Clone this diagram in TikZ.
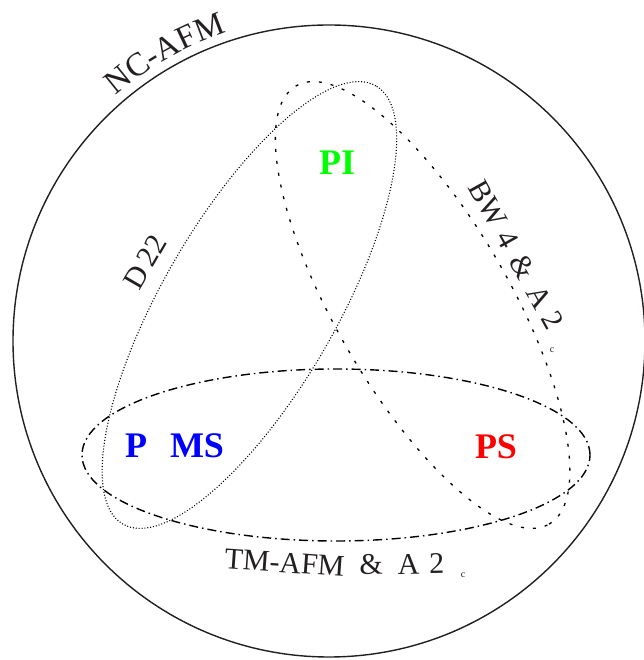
\documentclass[tikz,border=0pt]{standalone}
\usepackage{fontspec}
\setmainfont{Liberation Serif}
\usetikzlibrary{decorations.text}
\definecolor{pigreen}{RGB}{0,255,0}
\definecolor{msblue}{RGB}{0,0,255}
\definecolor{psred}{RGB}{255,0,0}
\definecolor{ink}{RGB}{35,31,32}
\begin{document}
\begin{tikzpicture}[x=1pt,y=1pt,
  lbl/.style={font=\fontsize{30}{36}\selectfont, text=ink, inner sep=0pt},
  big/.style={font=\fontsize{36}{40}\selectfont\bfseries, inner sep=0pt},
  sub/.style={font=\fontsize{10}{12}\selectfont, text=ink, inner sep=0pt},
  dotline/.style={line width=1.1pt, dash pattern=on 1pt off 1.9pt},
  dashline/.style={line width=1.3pt, dash pattern=on 3pt off 9pt},
  dashdotline/.style={line width=1.4pt, dash pattern=on 9pt off 4pt on 1.5pt off 4pt},
]
\useasboundingbox (0,0) rectangle (643,660);
% outer circle
\draw[line width=1.4pt, ink] (329,319) circle[radius=316];
% three ellipses
\draw[dotline] [rotate around={60:(249.4,355)}] (249.4,355) ellipse[x radius=253, y radius=87];
\draw[dashline] [rotate around={-60:(422.6,355)}] (422.6,355) ellipse[x radius=253, y radius=87];
\draw[dashdotline] (336,205) ellipse[x radius=254, y radius=86];
% NC-AFM along the circle
\path[decorate, decoration={text along path, text color=ink,
   text={|\fontsize{33}{36}\selectfont|NC-AFM}, text align=center}]
   (329,319) ++(135:325) arc[start angle=135, end angle=104.4, radius=325];
% labels
\node[big, text=pigreen] (pi) at (337,497) {PI};
\node[big, text=msblue] (p) at (136,214) {P};
\node[big, text=msblue] (ms) at (197,214) {MS};
\node[big, text=psred] (ps) at (496,213) {PS};
\node[lbl, rotate=60] (d22) at (145,398) {D\hspace{0.15em}22};
\node[lbl, rotate=-61] (bw) at (516,405) {BW\hspace{0.3em}4\hspace{0.4em}\&\hspace{0.4em}A\hspace{0.3em}2};
\node[sub] (bwc) at (552,310) {c};
\node[lbl, rotate=-4, anchor=base] (tm) at (284,87.5) {TM-AFM};
\node[lbl, rotate=1, anchor=base] (tma) at (402,86) {\&\hspace{0.5em}A\hspace{0.33em}2};
\node[sub] (tmc) at (463,85) {c};
\end{tikzpicture}
\end{document}
